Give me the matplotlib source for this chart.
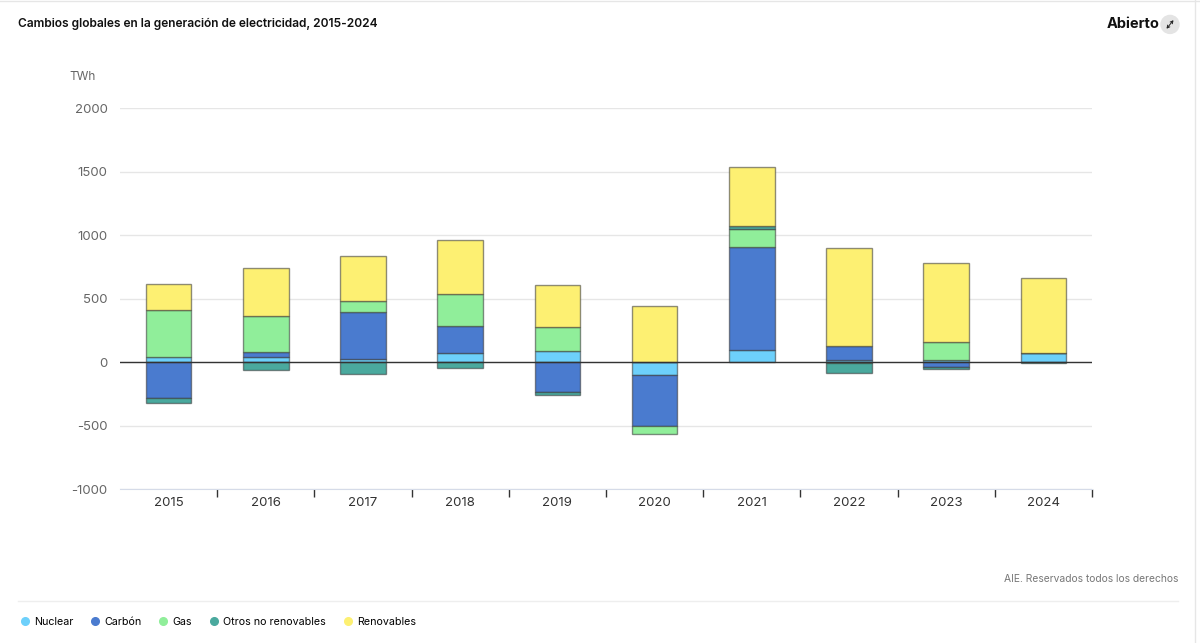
import matplotlib.pyplot as plt
from matplotlib.lines import Line2D
from matplotlib.patches import Ellipse
import numpy as np

plt.rcParams['font.family'] = ['Inter', 'DejaVu Sans']
plt.rcParams['axes.unicode_minus'] = False

years = ['2015', '2016', '2017', '2018', '2019', '2020', '2021', '2022', '2023', '2024']
series = ['Nuclear', 'Carbón', 'Gas', 'Otros no renovables', 'Renovables']
colors = ['#6dd0fb', '#4a7bcf', '#90ee9a', '#4aa99e', '#fdf072']

# TWh change per year
nuclear = [37, 37, 26, 73, 84, -105, 97, 18, 13, 68]
coal = [-286, 44, 368, 208, -234, -397, 811, 108, -37, 0]
gas = [372, 284, 86, 254, 192, -63, 136, -8, 147, 3]
others = [-34, -63, -92, -50, -26, 3, 29, -75, -21, -10]
renewables = [205, 375, 355, 426, 333, 440, 460, 774, 617, 593]

data = [nuclear, coal, gas, others, renewables]

fig = plt.figure(figsize=(12, 6.43), dpi=100)
ax = fig.add_axes([0.1, 0.2395, 0.81, 0.5925])

x = np.arange(len(years))
pos_base = np.zeros(len(years))
neg_base = np.zeros(len(years))
for vals, c, name in zip(data, colors, series):
    v = np.array(vals, dtype=float)
    base = np.where(v >= 0, pos_base, neg_base)
    ax.bar(x, v, bottom=base, width=0.47, color=c, edgecolor=(0.2, 0.2, 0.2, 0.55),
           linewidth=1, label=name, zorder=3)
    pos_base += np.where(v >= 0, v, 0)
    neg_base += np.where(v < 0, v, 0)

ax.axhline(0, color='#333333', linewidth=1, zorder=4)
ax.set_ylim(-1000, 2000)
ax.set_xlim(-0.5, len(years) - 0.5)
ax.set_yticks([-1000, -500, 0, 500, 1000, 1500, 2000])
ax.yaxis.grid(True, color='#e6e6e6', linewidth=1, zorder=0)
ax.set_axisbelow(True)
for s in ['top', 'right', 'left']:
    ax.spines[s].set_visible(False)
ax.spines['bottom'].set_color('#d5dbe8')
ax.tick_params(axis='y', length=0, labelsize=9.5, labelcolor='#666666', pad=9)
ax.set_xticks(x)
ax.set_xticklabels(years)
ax.tick_params(axis='x', length=0, labelsize=9.5, labelcolor='#333333', pad=6)
ax.set_xticks(np.arange(0.5, len(years) + 0.5), minor=True)
ax.tick_params(axis='x', which='minor', length=6, width=1, color='#333333', direction='out')

fig.text(0.0575, 0.88, 'TWh', fontsize=8.5, color='#666666', va='center')

fig.text(0.015, 0.962, 'Cambios globales en la generación de electricidad, 2015-2024',
         fontsize=8.6, fontweight='semibold', color='#111111', va='center')
fig.text(0.922, 0.962, 'Abierto', fontsize=10.5, fontweight='bold', color='#111111', va='center')
fig.add_artist(Ellipse((0.975, 0.962), 18 / 1200, 18 / 643, transform=fig.transFigure,
                       color='#e4e4e4'))
# expand icon drawn as a small double arrow
fig.add_artist(plt.Annotation('', xy=(0.9779, 0.9686), xytext=(0.9721, 0.9554),
                              xycoords='figure fraction', textcoords='figure fraction',
                              arrowprops=dict(arrowstyle='<->,head_length=0.18,head_width=0.1',
                                              color='#222222', lw=0.7,
                                              shrinkA=0, shrinkB=0)))

fig.text(0.982, 0.099, 'AIE. Reservados todos los derechos', fontsize=7.4,
         color='#777777', ha='right', va='center')

fig.add_artist(Line2D([0.015, 0.982], [0.065, 0.065], color='#eeeeee', linewidth=1))
fig.add_artist(Line2D([0, 1], [0.999, 0.999], color='#e6e6e6', linewidth=1))
fig.add_artist(Line2D([0.996, 0.996], [0, 1], color='#e6e6e6', linewidth=1))

handles = [Line2D([], [], marker='o', linestyle='', markersize=5.5, markerfacecolor=c,
                  markeredgecolor=c) for c in colors]
fig.legend(handles, series, loc='center left', bbox_to_anchor=(0.008, 0.033), ncol=5,
           frameon=False, fontsize=7.7, handletextpad=0.4, columnspacing=1.5,
           handlelength=1.0)

fig.savefig('out.png', dpi=100)
